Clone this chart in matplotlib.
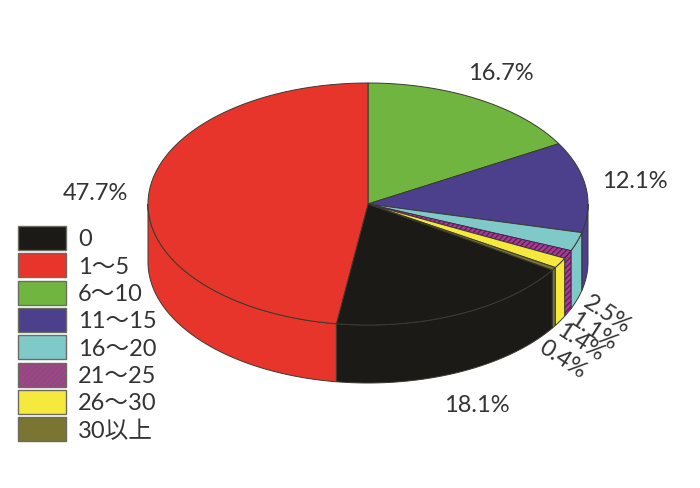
import matplotlib
matplotlib.use("Agg")
import matplotlib.pyplot as plt
import numpy as np
from matplotlib.patches import Polygon, Rectangle

plt.rcParams["font.family"] = ["Lato", "Noto Sans CJK JP", "DejaVu Sans"]
plt.rcParams["hatch.linewidth"] = 0.8

# legend order, clockwise from the black slice
categories = ["0", "1～5", "6～10", "11～15", "16～20", "21～25", "26～30", "30以上"]
shares = [18.1, 47.7, 16.7, 12.1, 2.5, 1.1, 1.4, 0.4]
colors = ["#1b1a16", "#e8352b", "#70b540", "#4c408c", "#80c9c9", "#a83a90", "#f5e93e", "#7a7632"]

# drawing order of the pie, clockwise from 12 o'clock
pie_order = [2, 3, 4, 5, 6, 7, 0, 1]

CX, CY = 368, 205
RX, RY = 220, 121
DEPTH = 58
EDGE = "#3a3a30"

fig = plt.figure(figsize=(7, 4.89), dpi=100)
ax = fig.add_axes([0, 0, 1, 1])
ax.set_xlim(0, 700)
ax.set_ylim(489, 0)
ax.axis("off")


def arc(a0, a1, dy=0):
    t = np.radians(np.linspace(a0, a1, max(int(abs(a1 - a0)) * 2, 2) + 1))
    return np.column_stack([CX + RX * np.sin(t), CY - RY * np.cos(t) + dy])


def style(i):
    if categories[i] == "21～25":
        return dict(facecolor=colors[i], edgecolor="#4a1f55", hatch="//////", linewidth=0.6)
    return dict(facecolor=colors[i], edgecolor=EDGE, linewidth=0.7)


# wall first, only the front half is visible
start = 0.0
for i in pie_order:
    end = start + shares[i] * 3.6
    a0, a1 = max(start, 90), min(end, 270)
    if a1 > a0:
        top = arc(a0, a1)
        low = arc(a0, a1, DEPTH)[::-1]
        ax.add_patch(Polygon(np.vstack([top, low]), closed=True, **style(i)))
    start = end

start = 0.0
for i in pie_order:
    end = start + shares[i] * 3.6
    pts = np.vstack([[[CX, CY]], arc(start, end)])
    ax.add_patch(Polygon(pts, closed=True, **style(i)))
    start = end

# slice labels
ax.text(501, 73, "16.7%", fontsize=17, ha="center", va="center", color="#333333")
ax.text(635, 181, "12.1%", fontsize=17, ha="center", va="center", color="#333333")
ax.text(95, 194, "47.7%", fontsize=17, ha="center", va="center", color="#333333")
ax.text(477, 405, "18.1%", fontsize=17, ha="center", va="center", color="#333333")
ax.text(607, 315, "2.5%", fontsize=17, rotation=-33, ha="center", va="center", color="#333333")
ax.text(593, 332, "1.1%", fontsize=17, rotation=-33, ha="center", va="center", color="#333333")
ax.text(580, 343, "1.4%", fontsize=17, rotation=-33, ha="center", va="center", color="#333333")
ax.text(563, 360, "0.4%", fontsize=17, rotation=-33, ha="center", va="center", color="#333333")

# legend
for n, label in enumerate(categories):
    y = 227 + n * 27.3
    kw = dict(facecolor=colors[n], edgecolor="#6b6b60", linewidth=1.0)
    if label == "21～25":
        kw["hatch"] = "//////"
    ax.add_patch(Rectangle((18, y), 48, 24, **kw))
    ax.text(78, y + 13, label, fontsize=17, ha="left", va="center", color="#333333")

fig.savefig("out.png", dpi=100)
